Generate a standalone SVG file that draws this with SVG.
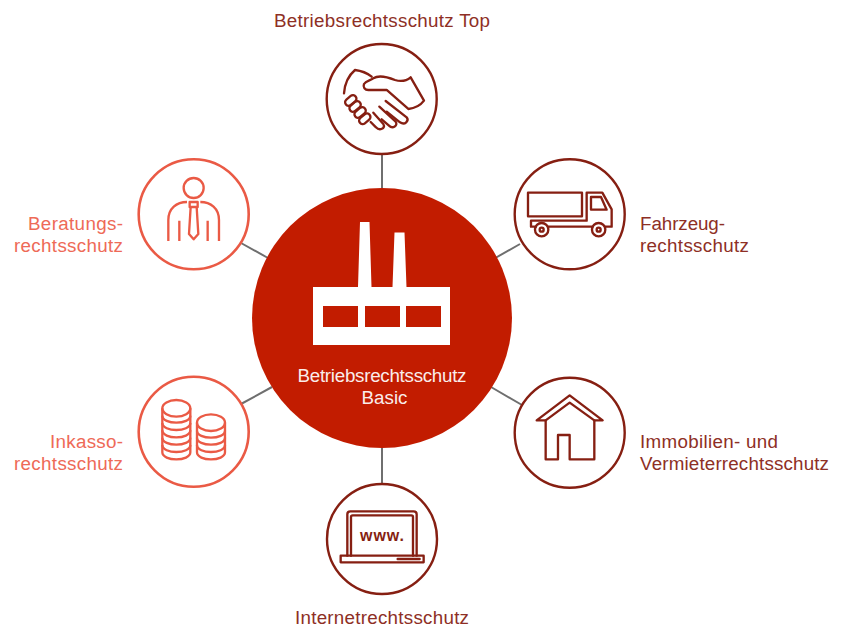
<svg xmlns="http://www.w3.org/2000/svg" width="843" height="628" viewBox="0 0 843 628">
<style>
text{font-family:"Liberation Sans",Arial,sans-serif;font-size:18.800px}
.d{fill:#8e2f25}.l{fill:#ee6a57}.w{fill:#fff}
.rd{fill:#fff;stroke:#861f12;stroke-width:2.400}
.rl{fill:#fff;stroke:#ea5a45;stroke-width:2.600}
.id{fill:none;stroke:#861f12;stroke-width:7;stroke-linejoin:round;stroke-linecap:round}
.il{fill:none;stroke:#ea5a45;stroke-width:7;stroke-linejoin:round}
.cn{stroke:#6f6f6f;stroke-width:2;fill:none}
</style>
<g id="connectors">
<path class="cn" d="M382 154V190M382 448V484M520 244L490 261M268 258L241 243M241 404L272 387M491 387L522 405"/>
</g>
<g id="center">
<circle cx="382" cy="318" r="130" fill="#c21c00"/>
<path fill="#fff" d="M313 287H358L360 222H369.500L371.500 287H392.500L394.500 232.500H404.500L406.500 287H450V345H313Z"/>
<rect x="323" y="306" width="35" height="21" fill="#c21c00"/>
<rect x="365" y="306" width="35" height="21" fill="#c21c00"/>
<rect x="406" y="306" width="35" height="21" fill="#c21c00"/>
<text class="w" x="382" y="382" text-anchor="middle" textLength="169" opacity=".92">Betriebsrechtsschutz</text>
<text class="w" x="384.500" y="404" text-anchor="middle" opacity=".92">Basic</text>
</g>
<g id="top">
<circle class="rd" cx="381.700" cy="99" r="55"/>
<g transform="translate(340 60) scale(.3333)">
<path class="id" d="M12 100C14 72 25 47 45 30C62 32 80 38 95 50"/>
<path class="id" d="M212 52C200 62 185 66 165 60C140 50 115 45 100 55C90 62 78 62 72 72C68 82 75 90 85 90H140L205 147C225 145 240 138 252 122Z"/>
<path class="id" d="M137 123L200 172C208 182 195 197 180 187L140 155"/>
<path class="id" d="M118 140L167 185C175 197 158 208 147 197L125 178"/>
<path class="id" d="M100 158L130 192C138 206 118 213 108 202L92 186"/>
<rect class="id" x="13" y="111" width="38" height="21" rx="10.500" transform="rotate(-40 32 121)"/>
<rect class="id" x="26" y="129" width="38" height="21" rx="10.500" transform="rotate(-40 45 139)"/>
<rect class="id" x="41" y="147" width="38" height="21" rx="10.500" transform="rotate(-40 60 157)"/>
<rect class="id" x="55" y="166" width="38" height="21" rx="10.500" transform="rotate(-40 74 176)"/>
</g>
<text class="d" x="382" y="27" text-anchor="middle" textLength="216">Betriebsrechtsschutz Top</text>
</g>
<g id="truck">
<circle class="rd" cx="569.700" cy="214.300" r="55"/>
<g transform="translate(500 150) scale(.3333)">
<rect class="id" x="84" y="128" width="162" height="71"/>
<path class="id" d="M108 230H93V212H260V128H307L335 178V230H315M278 230H144"/>
<path class="id" d="M273 141H303L320 179H273Z"/>
<circle class="id" cx="125" cy="239" r="20"/><circle class="id" cx="125" cy="239" r="6"/>
<circle class="id" cx="296" cy="239" r="20"/><circle class="id" cx="296" cy="239" r="6"/>
</g>
<text class="d" x="640" y="230" textLength="85">Fahrzeug-</text>
<text class="d" x="640" y="252" textLength="109">rechtsschutz</text>
</g>
<g id="house">
<circle class="rd" cx="569.700" cy="432.700" r="55"/>
<g transform="translate(500 365) scale(.3333)">
<path class="id" d="M110 166L209 91L308 166H283V283H209V210H174V283H137V166Z"/>
<path class="id" d="M137 166L209 113L283 166"/>
</g>
<text class="d" x="640" y="448" textLength="138">Immobilien- und</text>
<text class="d" x="640" y="470" textLength="189">Vermieterrechtsschutz</text>
</g>
<g id="internet">
<circle class="rd" cx="382" cy="539" r="55"/>
<g transform="translate(315 475) scale(.3333)">
<path class="id" d="M97 242V118Q97 109 106 109H296Q305 109 305 118V242"/>
<path class="id" d="M108 242V126Q108 121 113 121H289Q294 121 294 126V242"/>
<rect class="id" x="77" y="242" width="249" height="20"/>
<path class="id" d="M248 252H314"/>
</g>
<text x="382" y="541" text-anchor="middle" style="font-size:16px;font-weight:700;fill:#861f12" textLength="44">www.</text>
<text class="d" x="382" y="624" text-anchor="middle" textLength="174">Internetrechtsschutz</text>
</g>
<g id="inkasso">
<circle class="rl" cx="193.700" cy="431.700" r="55"/>
<g transform="translate(125 365) scale(.3333)">
<path class="il" d="M112 130V262C112 290 196 290 196 262V130"/>
<ellipse class="il" cx="154" cy="130" rx="42" ry="25"/>
<path class="il" d="M112 152C112 180 196 180 196 152M112 174C112 202 196 202 196 174M112 196C112 224 196 224 196 196M112 218C112 246 196 246 196 218M112 240C112 268 196 268 196 240"/>
<path class="il" d="M216 173V262C216 290 300 290 300 262V173"/>
<ellipse class="il" cx="258" cy="173" rx="42" ry="25"/>
<path class="il" d="M216 197C216 225 300 225 300 197M216 218C216 246 300 246 300 218M216 240C216 268 300 268 300 240"/>
</g>
<text class="l" x="123" y="448" text-anchor="end" textLength="73">Inkasso-</text>
<text class="l" x="123" y="470" text-anchor="end" textLength="109">rechtsschutz</text>
</g>
<g id="beratung">
<circle class="rl" cx="193.700" cy="214.300" r="55"/>
<g transform="translate(125 150) scale(.3333)">
<circle class="il" cx="206" cy="114" r="30"/>
<path class="il" d="M130 273V210C130 175 155 156 186 156M282 273V210C282 175 257 156 226 156"/>
<path class="il" d="M163 212V273M248 212V273"/>
<rect class="il" x="194" y="156" width="24" height="15"/>
<path class="il" d="M197 171L192 252L206 268L220 252L215 171"/>
</g>
<text class="l" x="123" y="230" text-anchor="end" textLength="95">Beratungs-</text>
<text class="l" x="123" y="252" text-anchor="end" textLength="109">rechtsschutz</text>
</g>
</svg>
